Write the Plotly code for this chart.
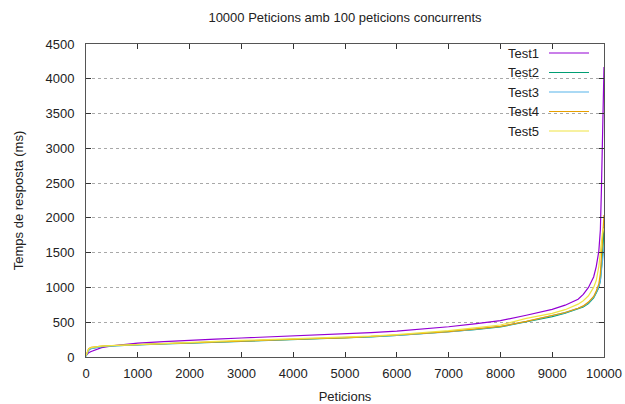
import plotly.graph_objects as go

# ---- data ----
peticions = [0, 50, 100, 200, 300, 500, 750, 1000, 1500, 2000, 2500, 3000, 3500, 4000,
             4500, 5000, 5500, 6000, 6500, 7000, 7500, 8000, 8500, 9000, 9250, 9500,
             9600, 9700, 9800, 9850, 9900, 9930, 9950, 9970, 9985, 10000]

test1 = [20, 60, 80, 110, 135, 160, 185, 200, 222, 243, 258, 273, 288, 302,
         315, 330, 350, 372, 400, 435, 475, 522, 600, 685, 745, 830,
         900, 1000, 1150, 1300, 1520, 1830, 2400, 3000, 3650, 4170]
test2 = [10, 100, 125, 140, 150, 160, 170, 178, 190, 200, 212, 230, 243, 252,
         262, 272, 290, 310, 335, 360, 395, 432, 505, 580, 630, 690,
         720, 770, 850, 920, 1000, 1100, 1250, 1450, 1650, 1870]
test3 = [10, 95, 120, 138, 150, 160, 170, 180, 192, 203, 215, 232, 245, 255,
         264, 275, 292, 312, 337, 362, 398, 438, 510, 588, 638, 700,
         730, 780, 860, 930, 1010, 1100, 1220, 1350, 1470, 1580]
test4 = [20, 120, 140, 150, 158, 165, 172, 180, 193, 205, 218, 234, 246, 256,
         266, 276, 294, 314, 338, 364, 400, 440, 512, 590, 640, 700,
         735, 790, 870, 950, 1050, 1200, 1400, 1650, 1850, 2040]
test5 = [20, 115, 135, 148, 156, 164, 172, 182, 196, 210, 222, 238, 250, 262,
         272, 284, 300, 322, 348, 378, 418, 460, 556, 628, 680, 760,
         810, 880, 1000, 1100, 1300, 1550, 1700, 1780, 1820, 1850]

series_names = ["Test1", "Test2", "Test3", "Test4", "Test5"]
series_values = [test1, test2, test3, test4, test5]
colors = ["#9400d3", "#009e73", "#56b4e9", "#e69f00", "#f0e442"]

x_ticks = list(range(0, 10001, 1000))
x_tick_labels = [str(v) for v in x_ticks]
y_ticks = list(range(0, 4501, 500))
y_tick_labels = [str(v) for v in y_ticks]

title_text = "10000 Peticions amb 100 peticions concurrents"
x_title = "Peticions"
y_title = "Temps de resposta (ms)"

FONT = "Liberation Sans, Arial, sans-serif"
TEXT_COLOR = "#222222"
FS = 13

fig = go.Figure()
for name, vals, col in zip(series_names, series_values, colors):
    fig.add_trace(go.Scatter(x=peticions, y=vals, mode="lines", name=name,
                             line=dict(color=col, width=1.2), showlegend=False,
                             hoverinfo="skip"))

# gnuplot-like legend: right-aligned text followed by the line sample
leg_top = 1 - (53 - 44) / 313
leg_step = 19.5 / 313
for i, (name, col) in enumerate(zip(series_names, colors)):
    yy = leg_top - i * leg_step
    fig.add_annotation(x=(541 - 86) / 518, y=yy, xref="paper", yref="paper", text=name,
                       showarrow=False, xanchor="right", yanchor="middle",
                       font=dict(family=FONT, size=FS, color=TEXT_COLOR))
    fig.add_shape(type="line", xref="paper", yref="paper",
                  x0=(549 - 86) / 518, x1=(589 - 86) / 518, y0=yy, y1=yy,
                  line=dict(color=col, width=1.2))

axis_common = dict(showline=True, linecolor="#555555", linewidth=1, mirror="allticks",
                   ticks="inside", ticklen=5, tickcolor="#333333", zeroline=False,
                   automargin=False,
                   tickfont=dict(family=FONT, size=FS, color=TEXT_COLOR))

fig.update_layout(
    width=625, height=404,
    margin=dict(l=86, r=21, t=44, b=47),
    paper_bgcolor="white", plot_bgcolor="white",
    title=dict(text=title_text, x=345 / 625, xanchor="center",
               y=1 - 17 / 404, yanchor="middle",
               font=dict(family=FONT, size=FS, color=TEXT_COLOR)),
    xaxis=dict(range=[0, 10000], tickvals=x_ticks, ticktext=x_tick_labels, showgrid=False,
               ticklabelstandoff=4,
               title=dict(text=x_title, standoff=14,
                          font=dict(family=FONT, size=FS, color=TEXT_COLOR)),
               **axis_common),
    yaxis=dict(range=[0, 4500], tickvals=y_ticks, ticktext=y_tick_labels, showgrid=True,
               gridcolor="#a8a8a8", griddash="dot", gridwidth=1,
               ticklabelstandoff=8,
               title=dict(text=y_title, standoff=18,
                          font=dict(family=FONT, size=FS, color=TEXT_COLOR)),
               **axis_common),
    showlegend=False,
    hovermode=False,
)

fig.write_html("out.html", config={"displayModeBar": False, "staticPlot": True},
               post_script="document.body.style.margin='0';document.body.style.overflow='hidden';")
